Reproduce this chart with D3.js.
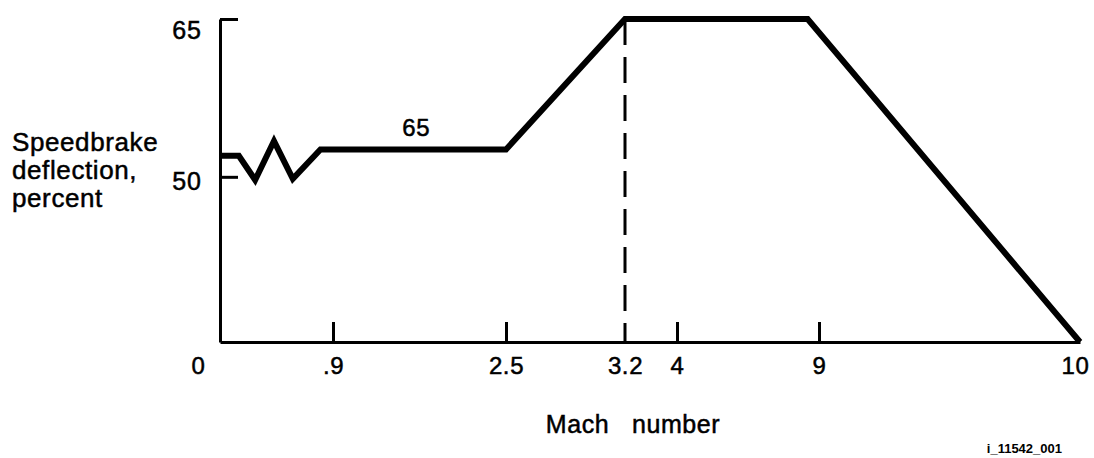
<!DOCTYPE html>
<html>
<head>
<meta charset="utf-8">
<script src="https://cdn.jsdelivr.net/npm/d3@7"></script>
<style>
  body { margin: 0; background: #fff; }
  text { font-family: "Liberation Sans", Arial, sans-serif; fill: #000; stroke: #000; stroke-width: 0.5px; }
</style>
</head>
<body>
<svg id="chart" width="1094" height="458"></svg>
<script>
// schematic axis: tick stops are not evenly spaced
var machStops = [0, 0.9, 2.5, 3.2, 4, 9, 10];
var machLabels = ["0", ".9", "2.5", "3.2", "4", "9", "10"];
var machTicksDrawn = [0.9, 2.5, 4, 9];

var yTicks = [65, 50];
var yMin = 34.3;

// speedbrake schedule (mach, percent)
var schedMach = [0, 0.15, 0.28, 0.43, 0.58, 0.8, 2.5, 3.2, 8.6, 10];
var schedPct  = [52, 52, 49.7, 53.4, 49.8, 52.6, 52.6, 65, 65, yMin];

var svg = d3.select("#chart");

var x = d3.scaleLinear()
  .domain(machStops)
  .range([220, 333, 506, 625, 677, 819, 1080]);

var y = d3.scaleLinear()
  .domain([yMin, 65])
  .range([342, 19]);

var fontSize = 24;

// x axis
var xAxis = d3.axisBottom(x)
  .tickValues(machStops)
  .tickFormat(function(d, i) { return machLabels[i]; })
  .tickSizeInner(-20)
  .tickSizeOuter(0)
  .tickPadding(15);

var gx = svg.append("g")
  .attr("transform", "translate(0," + y(yMin) + ")")
  .call(xAxis);
gx.select(".domain").attr("stroke-width", 3).attr("stroke", "#000");
gx.selectAll(".tick line")
  .attr("stroke-width", 3)
  .attr("stroke", "#000")
  .style("display", function(d) { return machTicksDrawn.indexOf(d) < 0 ? "none" : null; });
gx.selectAll(".tick text")
  .attr("font-size", fontSize)
  .attr("font-family", "Liberation Sans, Arial, sans-serif")
  .style("letter-spacing", "0.6px")
  .attr("x", function(d) { return d === 0 ? -22 : (d === 10 ? -5 : 0); });

// y axis
var yAxis = d3.axisLeft(y)
  .tickValues(yTicks)
  .tickSizeInner(-18)
  .tickSizeOuter(0)
  .tickPadding(18);

var gy = svg.append("g")
  .attr("transform", "translate(" + x(0) + ",0)")
  .call(yAxis);
gy.select(".domain").attr("stroke-width", 3).attr("stroke", "#000");
gy.selectAll(".tick line").attr("stroke-width", 3).attr("stroke", "#000");
gy.selectAll(".tick text")
  .attr("font-size", 25)
  .attr("font-family", "Liberation Sans, Arial, sans-serif")
  .style("letter-spacing", "1px")
  .attr("y", function(d) { return d === 65 ? 11 : 5; });

// dashed marker at mach 3.2
svg.append("line")
  .attr("x1", x(3.2)).attr("x2", x(3.2))
  .attr("y1", y(65)).attr("y2", y(yMin))
  .attr("stroke", "#000")
  .attr("stroke-width", 3)
  .attr("stroke-dasharray", "26,12");

// schedule line
var pts = schedMach.map(function(m, i) { return [m, schedPct[i]]; });
var line = d3.line()
  .x(function(d) { return x(d[0]); })
  .y(function(d) { return y(d[1]); });

svg.append("path")
  .datum(pts)
  .attr("d", line)
  .attr("fill", "none")
  .attr("stroke", "#000")
  .attr("stroke-width", 6)
  .attr("stroke-linejoin", "miter")
  .attr("stroke-miterlimit", 3);

// label on flat segment
svg.append("text")
  .attr("x", x(1.67))
  .attr("y", y(52.6) - 13)
  .attr("text-anchor", "middle")
  .attr("font-size", fontSize)
  .style("letter-spacing", "0.6px")
  .text("65");

// y title
var yTitle = ["Speedbrake", "deflection,", "percent"];
svg.append("g").selectAll("text")
  .data(yTitle)
  .enter()
  .append("text")
  .attr("x", 12)
  .attr("y", function(d, i) { return 151 + i * 28; })
  .attr("font-size", 26)
  .style("letter-spacing", "0.6px")
  .text(function(d) { return d; });

// x title
svg.append("text")
  .attr("x", 633)
  .attr("y", 433)
  .attr("text-anchor", "middle")
  .attr("font-size", 25)
  .style("letter-spacing", "0.6px")
  .style("white-space", "pre")
  .text("Mach   number");

// figure id
svg.append("text")
  .attr("x", 1062)
  .attr("y", 453)
  .attr("text-anchor", "end")
  .attr("font-size", 13)
  .attr("font-weight", "bold")
  .style("stroke-width", "0")
  .text("i_11542_001");
</script>
</body>
</html>
